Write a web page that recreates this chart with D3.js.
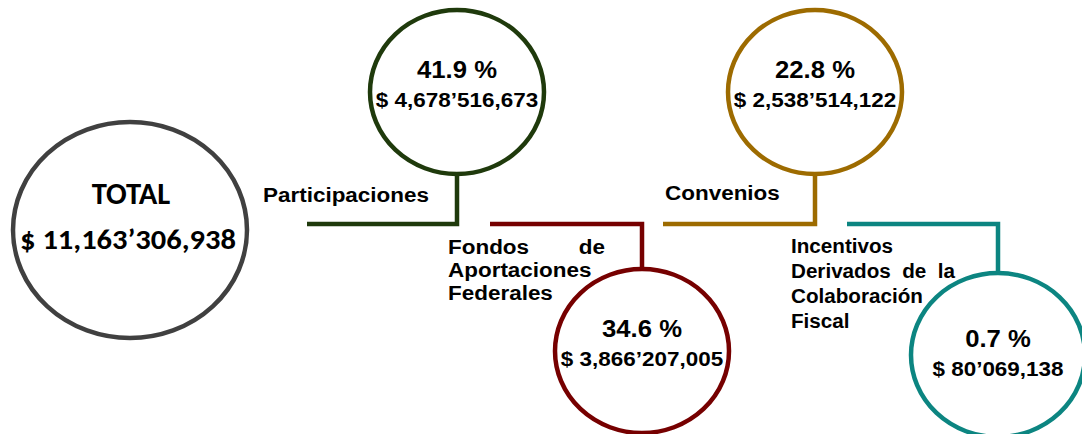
<!DOCTYPE html>
<html>
<head>
<meta charset="utf-8">
<script src="https://cdn.jsdelivr.net/npm/d3@7"></script>
<style>
  body { margin: 0; background: #ffffff; }
  svg { display: block; }
</style>
</head>
<body>
<div id="graph"></div>
<script>
// values
const totalLabel = "TOTAL";
const totalAmount = 11163306938;

const categories = [
  ["Participaciones"],
  ["Fondos de", "Aportaciones", "Federales"],
  ["Convenios"],
  ["Incentivos", "Derivados de la", "Colaboración", "Fiscal"]
];
const percents = [41.9, 34.6, 22.8, 0.7];
const amounts = [4678516673, 3866207005, 2538514122, 80069138];
const colors = ["#1f3a0c", "#760000", "#9d6b00", "#0c8581"];

// layout of the diagram (pixels)
const width = 1082, height = 434;
const busY = 224;
const sx = 1.07; // the picture is a little stretched horizontally
const layout = [
  {cx: 457, cy: 92,  up: true,  lineFrom: 307, labelX: 263, labelY: 202, lineH: 23, justify: 0,   fs: 21,   textDy: 0},
  {cx: 642, cy: 351, up: false, lineFrom: 490, labelX: 448, labelY: 254, lineH: 23, justify: 157, fs: 21,   textDy: 0},
  {cx: 815, cy: 92,  up: true,  lineFrom: 663, labelX: 665, labelY: 200, lineH: 25, justify: 0,   fs: 21,   textDy: 0},
  {cx: 998, cy: 355, up: false, lineFrom: 847, labelX: 791, labelY: 253, lineH: 25, justify: 164, fs: 19.3, textDy: 6}
];
const rx = 87, ry = 82;

// 4,678,516,673 -> 4,678’516,673
function money(v) {
  var s = d3.format(",")(v);
  var i = s.length - 8;
  return "$ " + s.slice(0, i) + "’" + s.slice(i + 1);
}

var svg = d3.select("#graph").append("svg")
    .attr("width", width)
    .attr("height", height);

var arial = "'Liberation Sans', Arial, sans-serif";

// total circle
svg.append("ellipse")
  .attr("cx", 130).attr("cy", 230)
  .attr("rx", 117).attr("ry", 108)
  .attr("fill", "none")
  .attr("stroke", "#404040")
  .attr("stroke-width", 4.5);

svg.append("text")
  .attr("transform", "translate(131,204) scale(1.02,1)")
  .attr("text-anchor", "middle")
  .style("font-family", "Carlito, Calibri, Lato, sans-serif")
  .style("font-weight", "bold")
  .style("font-size", "30px")
  .text(totalLabel);

svg.append("text")
  .attr("transform", "translate(128,249) scale(" + sx + ",1)")
  .attr("text-anchor", "middle")
  .style("font-family", "Carlito, Calibri, Lato, sans-serif")
  .style("font-weight", "bold")
  .style("font-size", "28.5px")
  .text(money(totalAmount));

var nodes = percents.map(function(p, i) {
  return {pct: p, amount: amounts[i], color: colors[i], label: categories[i], pos: layout[i]};
});

var g = svg.selectAll(".node")
  .data(nodes)
  .enter().append("g")
  .attr("class", "node");

// connectors
g.append("path")
  .attr("fill", "none")
  .attr("stroke", function(d) { return d.color; })
  .attr("stroke-width", 4.5)
  .attr("d", function(d) {
    var p = d.pos;
    var edge = p.up ? p.cy + ry : p.cy - ry;
    return "M" + p.lineFrom + "," + busY + "H" + p.cx + "V" + edge;
  });

g.append("ellipse")
  .attr("cx", function(d) { return d.pos.cx; })
  .attr("cy", function(d) { return d.pos.cy; })
  .attr("rx", rx).attr("ry", ry)
  .attr("fill", "none")
  .attr("stroke", function(d) { return d.color; })
  .attr("stroke-width", 4.5);

g.append("text")
  .attr("transform", function(d) {
    return "translate(" + d.pos.cx + "," + (d.pos.cy - 14 + d.pos.textDy) + ") scale(" + sx + ",1)";
  })
  .attr("text-anchor", "middle")
  .style("font-family", arial)
  .style("font-weight", "bold")
  .style("font-size", "24px")
  .text(function(d) { return d.pct.toFixed(1) + " %"; });

g.append("text")
  .attr("transform", function(d) {
    return "translate(" + d.pos.cx + "," + (d.pos.cy + 15 + d.pos.textDy) + ") scale(" + sx + ",1)";
  })
  .attr("text-anchor", "middle")
  .style("font-family", arial)
  .style("font-weight", "bold")
  .style("font-size", "21px")
  .text(function(d) { return money(d.amount); });

// category labels, justified like the original text boxes
g.each(function(d) {
  var node = d3.select(this);
  var p = d.pos;
  d.label.forEach(function(line, li) {
    var y = p.labelY + li * p.lineH;
    var words = line.split(" ");
    var stretch = p.justify > 0 && li < d.label.length - 1 && words.length > 1;
    if (!stretch) {
      node.append("text")
        .attr("transform", "translate(" + p.labelX + "," + y + ") scale(" + sx + ",1)")
        .style("font-family", arial)
        .style("font-weight", "bold")
        .style("font-size", p.fs + "px")
        .text(line);
      return;
    }
    var ts = words.map(function(w) {
      return node.append("text")
        .style("font-family", arial)
        .style("font-weight", "bold")
        .style("font-size", p.fs + "px")
        .text(w);
    });
    var lens = ts.map(function(t) { return t.node().getComputedTextLength() * sx; });
    var gap = (p.justify - d3.sum(lens)) / (words.length - 1);
    var x = p.labelX;
    ts.forEach(function(t, k) {
      t.attr("transform", "translate(" + x + "," + y + ") scale(" + sx + ",1)");
      x += lens[k] + gap;
    });
  });
});
</script>
</body>
</html>
